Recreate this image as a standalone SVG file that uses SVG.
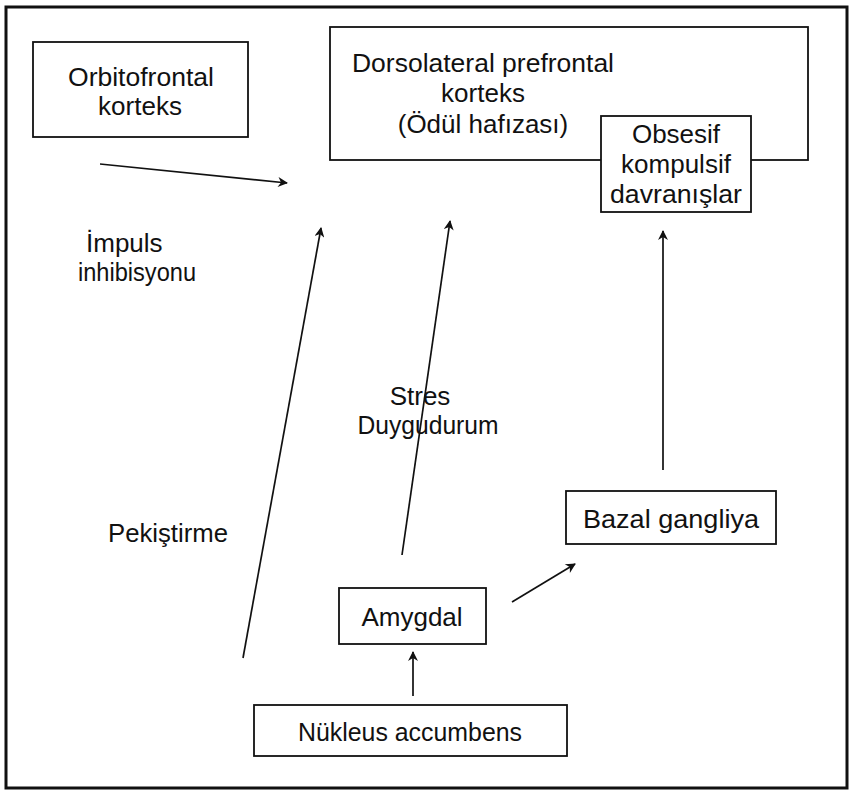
<svg xmlns="http://www.w3.org/2000/svg" width="849" height="794" viewBox="0 0 849 794">
<defs>
<marker id="ah" viewBox="0 0 10 10" refX="9" refY="5" markerWidth="13" markerHeight="10" markerUnits="userSpaceOnUse" orient="auto">
<path d="M0,0 L10,5 L0,10 L3,5 Z" fill="#111"/>
</marker>
</defs>
<style>
.box{fill:#fff;stroke:#111;stroke-width:1.8}
.t{font-family:"Liberation Sans","DejaVu Sans",sans-serif;font-size:26px;fill:#111;text-anchor:middle}
.l{font-family:"Liberation Sans","DejaVu Sans",sans-serif;font-size:26px;fill:#111}
.c{stroke:#111;stroke-width:1.7;fill:none;marker-end:url(#ah)}
</style>
<rect x="0" y="0" width="849" height="794" fill="#fff"/>
<rect x="6" y="7" width="841" height="781" fill="none" stroke="#111" stroke-width="3"/>
<g id="orbitofrontal">
<rect class="box" x="33" y="42" width="215" height="95"/>
<text class="t" x="141" y="86" textLength="146" lengthAdjust="spacingAndGlyphs">Orbitofrontal</text>
<text class="t" x="140" y="115">korteks</text>
</g>
<g id="dorsolateral">
<rect class="box" x="330" y="27" width="478" height="133"/>
<text class="t" x="483" y="72" textLength="262" lengthAdjust="spacingAndGlyphs">Dorsolateral prefrontal</text>
<text class="t" x="483" y="102">korteks</text>
<text class="t" x="483" y="133">(Ödül hafızası)</text>
</g>
<g id="obsesif">
<rect class="box" x="601" y="116" width="150" height="96"/>
<text class="t" x="676" y="143">Obsesif</text>
<text class="t" x="676" y="173">kompulsif</text>
<text class="t" x="676" y="203" textLength="132" lengthAdjust="spacingAndGlyphs">davranışlar</text>
</g>
<g id="bazal">
<rect class="box" x="566" y="491" width="210" height="53"/>
<text class="t" x="671" y="528" textLength="176" lengthAdjust="spacingAndGlyphs">Bazal gangliya</text>
</g>
<g id="amygdal">
<rect class="box" x="339" y="588" width="147" height="56"/>
<text class="t" x="412" y="626">Amygdal</text>
</g>
<g id="nukleus">
<rect class="box" x="254" y="705" width="313" height="51"/>
<text class="t" x="410" y="741" textLength="224" lengthAdjust="spacingAndGlyphs">Nükleus accumbens</text>
</g>
<g id="labels">
<text class="l" x="86" y="252">İmpuls</text>
<text class="l" x="78" y="281" textLength="118" lengthAdjust="spacingAndGlyphs">inhibisyonu</text>
<text class="t" x="420" y="405">Stres</text>
<text class="t" x="428" y="434" textLength="141" lengthAdjust="spacingAndGlyphs">Duygudurum</text>
<text class="l" x="108" y="542" textLength="120" lengthAdjust="spacingAndGlyphs">Pekiştirme</text>
</g>
<g id="connectors">
<line class="c" x1="100" y1="164" x2="287" y2="183"/>
<line class="c" x1="243" y1="658" x2="321" y2="228"/>
<line class="c" x1="402" y1="555" x2="450" y2="221"/>
<line class="c" x1="663" y1="470" x2="663" y2="231"/>
<line class="c" x1="512" y1="602" x2="575" y2="564"/>
<line class="c" x1="413" y1="696" x2="413" y2="652"/>
</g>
</svg>
